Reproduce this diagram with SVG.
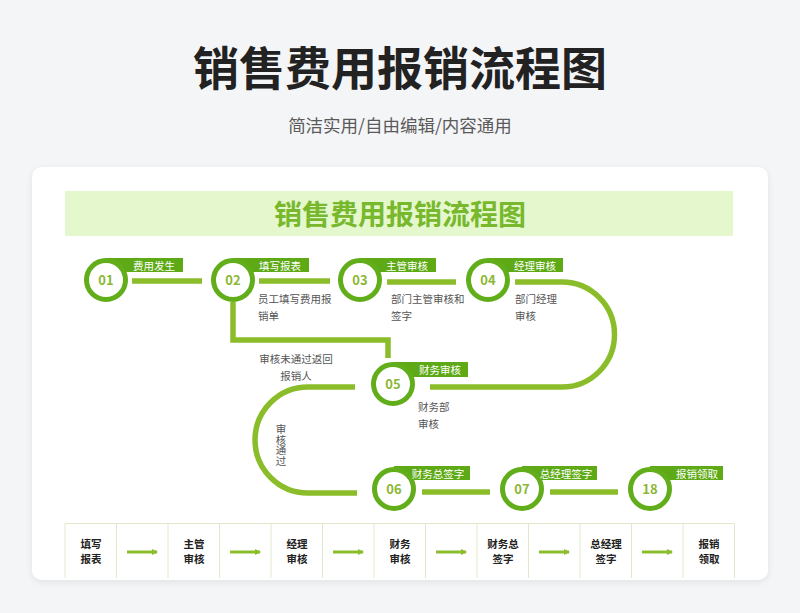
<svg xmlns="http://www.w3.org/2000/svg" width="800" height="613" viewBox="0 0 800 613">
<defs>
<style>
text{font-family:"Noto Sans CJK SC","Noto Sans",sans-serif;}
.title{font-size:46px;font-weight:700;fill:#222;text-anchor:middle;}
.sub{font-size:17.5px;fill:#5a5a5a;text-anchor:middle;}
.btitle{font-size:28px;font-weight:700;fill:#78b82c;text-anchor:middle;}
.tab{fill:#5eaa16;}
.tabt{font-size:10.5px;fill:#fff;text-anchor:middle;}
.ring{fill:#fff;stroke:#62ad1a;stroke-width:5;}
.num{font-size:13px;font-weight:700;fill:#8cb735;text-anchor:middle;}
.desc{font-size:10.5px;fill:#555;}
.lbl{font-size:10.5px;fill:#555;text-anchor:middle;}
.vlbl{font-size:10.5px;fill:#555;writing-mode:vertical-rl;}
.conn{fill:none;stroke:#8bbd2b;stroke-width:5.5;}
.cell{fill:none;stroke:#e0eacb;stroke-width:1;}
.ct{font-size:10.5px;font-weight:700;fill:#222;text-anchor:middle;}
.arr{stroke:#8bbd2b;stroke-width:3;marker-end:url(#ah);}
</style>
<marker id="ah" viewBox="0 0 6 6" refX="5" refY="3" markerWidth="2" markerHeight="2" orient="auto" markerUnits="strokeWidth">
<path d="M0,0 L6,3 L0,6 Z" fill="#8bbd2b"/>
</marker>
<filter id="sh" x="-5%" y="-5%" width="110%" height="115%">
<feDropShadow dx="0" dy="2" stdDeviation="3" flood-color="#000" flood-opacity="0.08"/>
</filter>
</defs>
<rect width="800" height="613" fill="#f4f5f7"/>
<text class="title" x="400" y="85">销售费用报销流程图</text>
<text class="sub" x="400" y="132">简洁实用/自由编辑/内容通用</text>
<rect x="32" y="167" width="736" height="413" rx="10" fill="#fff" filter="url(#sh)"/>
<rect x="65" y="191" width="668" height="45" fill="#e5f7cc"/>
<text class="btitle" x="400" y="225">销售费用报销流程图</text>

<g id="connectors">
<line class="conn" x1="132" y1="281" x2="202" y2="281"/>
<line class="conn" x1="259" y1="281" x2="330" y2="281"/>
<line class="conn" x1="387" y1="282" x2="456" y2="282"/>
<path class="conn" d="M515,282 H562 A52.5,52.5 0 0 1 562,387 H430"/>
<path class="conn" d="M233,302 V340 H388 V358"/>
<path class="conn" d="M355,387 H308 A53,53 0 0 0 308,493 H357"/>
<line class="conn" x1="422" y1="492" x2="490" y2="492"/>
<line class="conn" x1="550" y1="492" x2="618" y2="492"/>
<text class="lbl" x="296" y="363">审核未通过返回</text>
<text class="lbl" x="296" y="380">报销人</text>
<text class="vlbl" x="281" y="424">审核通过</text>
</g>

<g id="n01">
<rect class="tab" x="106" y="258" width="77" height="14"/>
<circle class="ring" cx="106" cy="280" r="19.5"/>
<text class="tabt" x="154" y="269.5">费用发生</text>
<text class="num" x="106" y="284.5">01</text>
</g>
<g id="n02">
<rect class="tab" x="233" y="258" width="76" height="14"/>
<circle class="ring" cx="233" cy="280" r="19.5"/>
<text class="tabt" x="280" y="269.5">填写报表</text>
<text class="num" x="233" y="284.5">02</text>
<text class="desc" x="258" y="303">员工填写费用报</text>
<text class="desc" x="258" y="320">销单</text>
</g>
<g id="n03">
<rect class="tab" x="360" y="258" width="76" height="14"/>
<circle class="ring" cx="360" cy="280" r="19.5"/>
<text class="tabt" x="407" y="269.5">主管审核</text>
<text class="num" x="360" y="284.5">03</text>
<text class="desc" x="391" y="303">部门主管审核和</text>
<text class="desc" x="391" y="320">签字</text>
</g>
<g id="n04">
<rect class="tab" x="488" y="258" width="75" height="14"/>
<circle class="ring" cx="488" cy="280" r="19.5"/>
<text class="tabt" x="535" y="269.5">经理审核</text>
<text class="num" x="488" y="284.5">04</text>
<text class="desc" x="515" y="303">部门经理</text>
<text class="desc" x="515" y="320">审核</text>
</g>
<g id="n05">
<rect class="tab" x="393" y="362" width="75" height="15"/>
<circle class="ring" cx="393" cy="384" r="19.5"/>
<text class="tabt" x="440" y="373.5">财务审核</text>
<text class="num" x="393" y="388.5">05</text>
<text class="desc" x="418" y="411">财务部</text>
<text class="desc" x="418" y="428">审核</text>
</g>
<g id="n06">
<rect class="tab" x="394" y="466" width="76" height="14"/>
<circle class="ring" cx="394" cy="489" r="19.5"/>
<text class="tabt" x="438" y="477.5">财务总签字</text>
<text class="num" x="394" y="493.5">06</text>
</g>
<g id="n07">
<rect class="tab" x="522" y="466" width="75" height="14"/>
<circle class="ring" cx="522" cy="489" r="19.5"/>
<text class="tabt" x="566" y="477.5">总经理签字</text>
<text class="num" x="522" y="493.5">07</text>
</g>
<g id="n18">
<rect class="tab" x="650" y="466" width="73" height="14"/>
<circle class="ring" cx="650" cy="489" r="19.5"/>
<text class="tabt" x="697" y="477.5">报销领取</text>
<text class="num" x="650" y="493.5">18</text>
</g>

<g id="table">
<path class="cell" d="M65,578 V523.5 H734.5 V578 M116.5,523.5 V578 M168,523.5 V578 M219.5,523.5 V578 M271,523.5 V578 M322.5,523.5 V578 M374,523.5 V578 M425.5,523.5 V578 M477,523.5 V578 M528.5,523.5 V578 M580,523.5 V578 M631.5,523.5 V578 M683,523.5 V578"/>
<text class="ct"><tspan x="91" y="547.5">填写</tspan><tspan x="91" y="563">报表</tspan></text>
<line class="arr" x1="127" y1="552" x2="157" y2="552"/>
<text class="ct"><tspan x="194" y="547.5">主管</tspan><tspan x="194" y="563">审核</tspan></text>
<line class="arr" x1="230" y1="552" x2="260" y2="552"/>
<text class="ct"><tspan x="297" y="547.5">经理</tspan><tspan x="297" y="563">审核</tspan></text>
<line class="arr" x1="333" y1="552" x2="363" y2="552"/>
<text class="ct"><tspan x="400" y="547.5">财务</tspan><tspan x="400" y="563">审核</tspan></text>
<line class="arr" x1="436" y1="552" x2="466" y2="552"/>
<text class="ct"><tspan x="503" y="547.5">财务总</tspan><tspan x="503" y="563">签字</tspan></text>
<line class="arr" x1="539" y1="552" x2="569" y2="552"/>
<text class="ct"><tspan x="606" y="547.5">总经理</tspan><tspan x="606" y="563">签字</tspan></text>
<line class="arr" x1="642" y1="552" x2="672" y2="552"/>
<text class="ct"><tspan x="709" y="547.5">报销</tspan><tspan x="709" y="563">领取</tspan></text>
</g>
</svg>
